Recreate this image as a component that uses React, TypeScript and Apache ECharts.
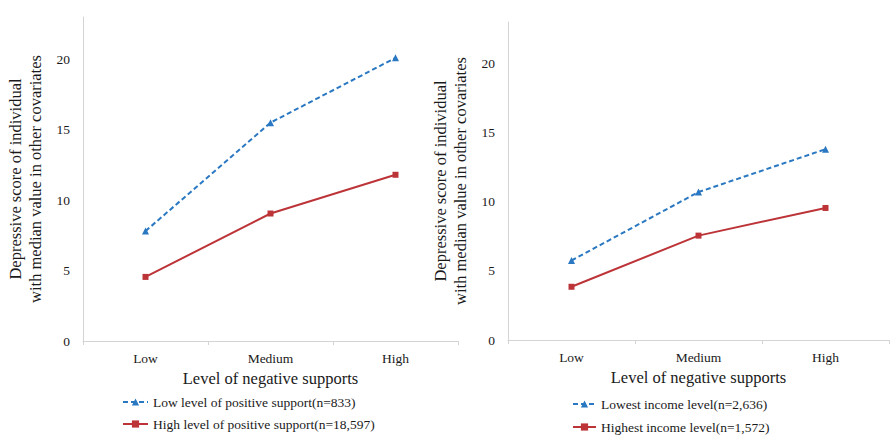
import React, { useEffect, useRef } from "react";
import * as echarts from "echarts";

const categories = ["Low", "Medium", "High"];
const leftLowPositive = [7.8, 15.5, 20.1];
const leftHighPositive = [4.55, 9.05, 11.8];
const rightLowestIncome = [5.75, 10.7, 13.8];
const rightHighestIncome = [3.85, 7.55, 9.55];
const yTicks = [0, 5, 10, 15, 20];

const leftNames = ["Low level of positive support(n=833)", "High level of positive support(n=18,597)"];
const rightNames = ["Lowest income level(n=2,636)", "Highest income level(n=1,572)"];
const yAxisName = "Depressive score of individual\nwith median value in other covariates";
const xAxisName = "Level of negative supports";

const FONT = "Liberation Serif";
const BLUE = "#2A78C2";
const RED = "#BC3438";
const AXIS = "#D4D4D4";
const TEXT = "#1a1a1a";

export default function App() {
  const ref = useRef<HTMLDivElement>(null);
  useEffect(() => {
    if (!ref.current) return;
    const chart = echarts.init(ref.current, null, { renderer: "svg" });
    const xAxisBase = (gridIndex: number) => ({
      type: "category",
      gridIndex,
      data: categories,
      boundaryGap: true,
      name: xAxisName,
      nameLocation: "middle",
      nameGap: 29,
      nameTextStyle: { fontFamily: FONT, fontSize: 16.5, color: TEXT },
      axisLine: { lineStyle: { color: AXIS, width: 1 } },
      axisTick: { show: true, length: 4, lineStyle: { color: AXIS } },
      axisLabel: { fontFamily: FONT, fontSize: 13.5, color: TEXT, margin: 10 },
      splitLine: { show: false },
    });
    const yAxisBase = (gridIndex: number) => ({
      type: "value",
      gridIndex,
      min: 0,
      max: 23,
      interval: 5,
      name: yAxisName,
      nameLocation: "middle",
      nameRotate: 90,
      nameGap: 38,
      nameTextStyle: { fontFamily: FONT, fontSize: 16.5, color: TEXT, lineHeight: 20 },
      axisLine: { show: true, lineStyle: { color: AXIS, width: 1 } },
      axisTick: { show: false },
      axisLabel: {
        fontFamily: FONT,
        fontSize: 13.5,
        color: TEXT,
        margin: 13,
        showMaxLabel: false,
        formatter: (v: number) => (yTicks.includes(v) ? String(v) : ""),
      },
      splitLine: { show: false },
    });
    const lineSeries = (name: string, data: number[], idx: number, dashed: boolean) => ({
      type: "line",
      name,
      data,
      xAxisIndex: idx,
      yAxisIndex: idx,
      symbol: dashed ? "triangle" : "rect",
      symbolSize: dashed ? 7 : 6,
      color: dashed ? BLUE : RED,
      lineStyle: { color: dashed ? BLUE : RED, width: 2, type: dashed ? [5, 3] : "solid" },
      itemStyle: { color: dashed ? BLUE : RED },
    });
    const legendText = { fontFamily: FONT, fontSize: 13.5, color: TEXT };
    chart.setOption({
      animation: false,
      backgroundColor: "#ffffff",
      textStyle: { fontFamily: FONT },
      grid: [
        { left: 83, right: 433, top: 17, bottom: 104 },
        { left: 508, right: 2, top: 22, bottom: 105 },
      ],
      xAxis: [xAxisBase(0), xAxisBase(1)],
      yAxis: [yAxisBase(0), yAxisBase(1)],
      legend: [
        {
          data: leftNames,
          orient: "vertical",
          left: 122,
          top: 395,
          padding: 0,
          itemWidth: 25,
          itemHeight: 9,
          itemGap: 8,
          textStyle: legendText,
        },
        {
          data: rightNames,
          orient: "vertical",
          left: 572,
          top: 397,
          padding: 0,
          itemWidth: 23,
          itemHeight: 9,
          itemGap: 9,
          textStyle: legendText,
        },
      ],
      series: [
        lineSeries(leftNames[0], leftLowPositive, 0, true),
        lineSeries(leftNames[1], leftHighPositive, 0, false),
        lineSeries(rightNames[0], rightLowestIncome, 1, true),
        lineSeries(rightNames[1], rightHighestIncome, 1, false),
      ],
    });
    return () => chart.dispose();
  }, []);
  return <div ref={ref} style={{ width: 891, height: 445, position: "absolute", left: 0, top: 0 }} />;
}
